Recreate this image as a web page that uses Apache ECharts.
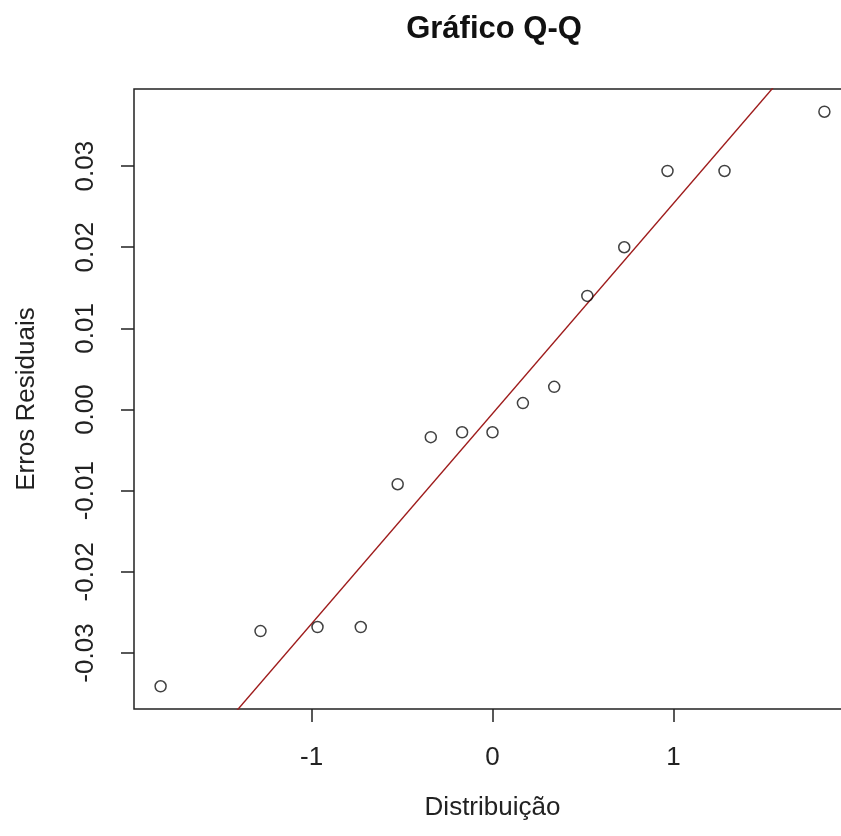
<!DOCTYPE html>
<html>
<head>
<meta charset="utf-8">
<title>Gráfico Q-Q</title>
<script src="https://cdn.jsdelivr.net/npm/echarts@6/dist/echarts.min.js"></script>
<style>
  html, body { margin: 0; padding: 0; background: #fff; }
  #qq { width: 841px; height: 836px; }
</style>
</head>
<body>
<div id="qq"></div>
<script>
// quantis teoricos (normal) e residuos
var quantisTeoricos = [-1.834, -1.282, -0.967, -0.728, -0.524, -0.341, -0.168, 0,
    0.168, 0.341, 0.524, 0.728, 0.967, 1.282, 1.834];
var errosResiduais = [-0.0341, -0.0273, -0.0268, -0.0268, -0.0092, -0.0034, -0.0028, -0.0028,
    0.0008, 0.0028, 0.0140, 0.0200, 0.0294, 0.0294, 0.0367];

// reta qqline (intercepto e inclinacao)
var retaIntercepto = -0.0005;
var retaInclinacao = 0.0259;

var xTicks = [-1, 0, 1];
var yTicks = [-0.03, -0.02, -0.01, 0.00, 0.01, 0.02, 0.03];

var xMin = -1.981, xMax = 1.981;
var yMin = -0.0369, yMax = 0.0395;

function renderQQ() {
    var dom = document.getElementById("qq");
    var myChart = echarts.init(dom);

    var pontos = quantisTeoricos.map(function (q, i) {
        return [q, errosResiduais[i]];
    });
    var reta = [
        [xMin, retaIntercepto + retaInclinacao * xMin],
        [xMax, retaIntercepto + retaInclinacao * xMax]
    ];

    var fonte = 'Liberation Sans, Arial, sans-serif';

    var option = {
        animation: false,
        backgroundColor: '#fff',
        title: {
            text: 'Gráfico Q-Q',
            left: 494,
            top: 14,
            padding: 0,
            textAlign: 'center',
            textStyle: {
                fontFamily: fonte,
                fontSize: 31,
                fontWeight: 'bold',
                color: '#111'
            }
        },
        grid: {
            left: 134,
            top: 89,
            width: 717,
            height: 620,
            outerBoundsMode: 'none',
            show: true,
            borderColor: '#222',
            borderWidth: 1.5,
            backgroundColor: 'transparent'
        },
        xAxis: {
            type: 'value',
            min: xMin,
            max: xMax,
            name: 'Distribuição',
            nameLocation: 'middle',
            nameGap: 86,
            nameTextStyle: { fontFamily: fonte, fontSize: 26, color: '#222' },
            axisLine: { show: false, onZero: false },
            splitLine: { show: false },
            axisTick: {
                show: true,
                length: 13,
                customValues: xTicks,
                lineStyle: { color: '#222', width: 1.5 }
            },
            axisLabel: {
                customValues: xTicks,
                margin: 36,
                fontFamily: fonte,
                fontSize: 26,
                color: '#222'
            }
        },
        yAxis: {
            type: 'value',
            min: yMin,
            max: yMax,
            name: 'Erros Residuais',
            nameLocation: 'middle',
            nameRotate: 90,
            nameGap: 94,
            nameTextStyle: { fontFamily: fonte, fontSize: 26, color: '#222' },
            axisLine: { show: false, onZero: false },
            splitLine: { show: false },
            axisTick: {
                show: true,
                length: 13,
                customValues: yTicks,
                lineStyle: { color: '#222', width: 1.5 }
            },
            axisLabel: {
                customValues: yTicks,
                rotate: 90,
                margin: 35,
                fontFamily: fonte,
                fontSize: 26,
                color: '#222',
                formatter: function (v) { return v.toFixed(2); }
            }
        },
        series: [
            {
                name: 'qqline',
                type: 'line',
                data: reta,
                symbol: 'none',
                clip: true,
                lineStyle: { color: '#9e1b1b', width: 1.4 },
                z: 2
            },
            {
                name: 'residuos',
                type: 'scatter',
                data: pontos,
                symbol: 'circle',
                symbolSize: 11,
                itemStyle: {
                    color: 'transparent',
                    borderColor: '#111',
                    borderWidth: 1.5
                },
                z: 3
            }
        ]
    };

    if (option && typeof option === 'object') {
        myChart.setOption(option);
    }
}
renderQQ();
</script>
</body>
</html>
